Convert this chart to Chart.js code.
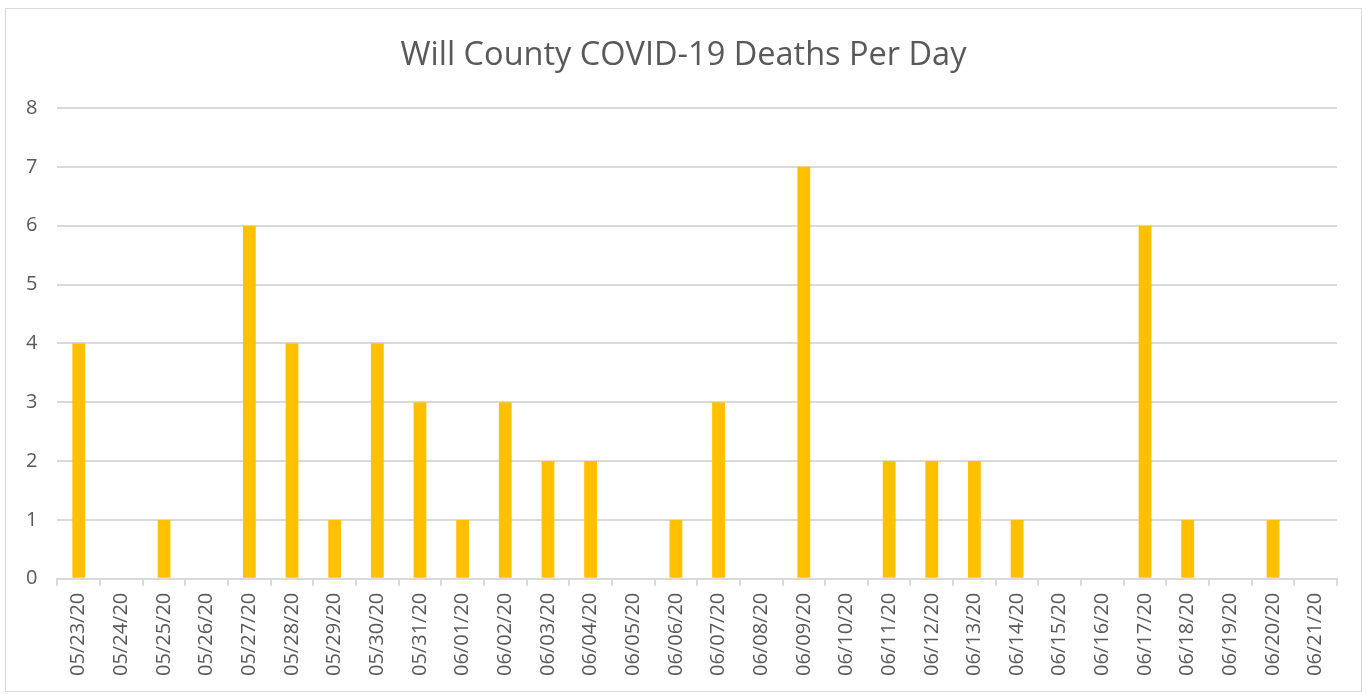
<!DOCTYPE html>
<html>
<head>
<meta charset="utf-8">
<script src="https://cdn.jsdelivr.net/npm/chart.js@4.4.0/dist/chart.umd.min.js"></script>
<style>
  html, body { margin: 0; padding: 0; background: #fff; }
  #box {
    position: absolute; left: 5px; top: 8px;
    width: 1357px; height: 684px;
    border: 1px solid #d9d9d9; box-sizing: border-box;
  }
  #chart { display: block; }
</style>
</head>
<body>
<div id="box"><canvas id="chart" width="1355" height="682"></canvas></div>
<script>
// dates shown on the x axis
const days = [
    '05/23/20', '05/24/20', '05/25/20', '05/26/20', '05/27/20', '05/28/20',
    '05/29/20', '05/30/20', '05/31/20', '06/01/20', '06/02/20', '06/03/20',
    '06/04/20', '06/05/20', '06/06/20', '06/07/20', '06/08/20', '06/09/20',
    '06/10/20', '06/11/20', '06/12/20', '06/13/20', '06/14/20', '06/15/20',
    '06/16/20', '06/17/20', '06/18/20', '06/19/20', '06/20/20', '06/21/20'
];

// deaths reported each day
const deaths = [
    4, 0, 1, 0, 6, 4,
    1, 4, 3, 1, 3, 2,
    2, 0, 1, 3, 0, 7,
    0, 2, 2, 2, 1, 0,
    0, 6, 1, 0, 1, 0
];

const yMin = 0;
const yMax = 8;
const textColor = '#595959';
const lineColor = '#d9d9d9';
const fontName = "'Open Sans', 'Liberation Sans', sans-serif";

const ctx = document.getElementById('chart');
new Chart(ctx, {
    type: 'bar',
    data: {
        labels: days,
        datasets: [{
            label: 'Deaths',
            data: deaths,
            backgroundColor: '#ffc000',
            borderWidth: 0,
            barPercentage: 0.3,
            categoryPercentage: 1.0
        }]
    },
    options: {
        responsive: false,
        animation: false,
        layout: { padding: { left: 0, right: 0, top: 18, bottom: 8 } },
        plugins: {
            legend: { display: false },
            tooltip: { enabled: false },
            title: {
                display: true,
                text: 'Will County COVID-19 Deaths Per Day',
                color: textColor,
                font: { family: fontName, size: 32.5, weight: 'normal' },
                padding: { top: 9, bottom: 33 }
            }
        },
        scales: {
            x: {
                offset: true,
                grid: {
                    offset: true,
                    drawOnChartArea: false,
                    drawTicks: true,
                    tickLength: 7,
                    color: lineColor,
                    lineWidth: 2
                },
                border: { display: true, color: lineColor, width: 2 },
                ticks: {
                    color: textColor,
                    font: { family: fontName, size: 20 },
                    minRotation: 90,
                    maxRotation: 90,
                    autoSkip: false,
                    padding: 7
                }
            },
            y: {
                min: yMin,
                max: yMax,
                grid: { color: lineColor, lineWidth: 2, drawTicks: false },
                border: { display: false },
                ticks: {
                    stepSize: 1,
                    color: textColor,
                    font: { family: fontName, size: 20 },
                    padding: 20
                }
            },
            // empty right axis, only keeps a gap so the title stays centred on the box
            spacer: {
                type: 'linear',
                position: 'right',
                grid: { display: false },
                border: { display: false },
                ticks: { display: false },
                afterFit: function (scale) { scale.width = 24; }
            }
        }
    }
});
</script>
</body>
</html>
